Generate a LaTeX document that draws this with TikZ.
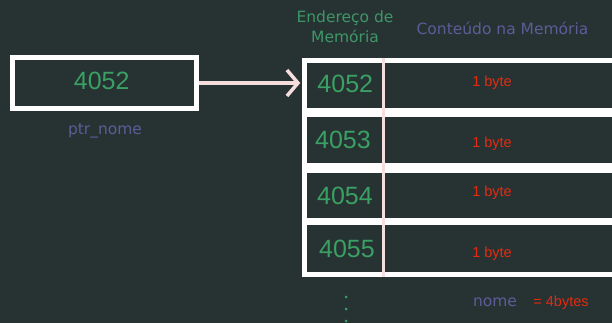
\documentclass[tikz,border=0pt]{standalone}
\usepackage{fontspec}
\setmainfont{DejaVu Sans}
\newfontfamily\digfont{Liberation Sans}
\newfontfamily\arialfont{Liberation Sans}
\usetikzlibrary{arrows.meta}
\definecolor{bg}{RGB}{39,51,51}
\definecolor{memgreen}{RGB}{58,160,100}
\definecolor{hdrgreen}{RGB}{62,150,104}
\definecolor{lilac}{RGB}{92,92,152}
\definecolor{bytered}{RGB}{228,42,16}
\definecolor{pinkline}{RGB}{246,222,222}
\begin{document}
\begin{tikzpicture}[x=1pt,y=-1pt,
  cellbox/.style={draw=white, line width=4.5pt, fill=bg, inner sep=0pt},
  numtext/.style={text=memgreen, font=\digfont\fontsize{25}{25}\selectfont, inner sep=0pt, anchor=base},
  bytetext/.style={text=bytered, font=\arialfont\fontsize{14.5}{15}\selectfont, inner sep=0pt, anchor=base},
  hdrtext/.style={text=hdrgreen, font=\fontsize{15.5}{16}\selectfont, inner sep=0pt, anchor=base},
  lilactext/.style={text=lilac, font=\fontsize{15.5}{16}\selectfont, inner sep=0pt, anchor=base},
  arrowline/.style={draw=pinkline, line width=3.5pt, -{Straight Barb[length=11pt,width=26pt]}},
  divider/.style={draw=pinkline, line width=3pt}]
\useasboundingbox (0,0) rectangle (612,323);
\fill[bg] (0,0) rectangle (612,323);
\clip (0,0) rectangle (612,323);

% pointer box
\node[cellbox, minimum width=184pt, minimum height=51pt] (ptr) at (104.5,83) {};
\node[numtext] (ptrval) at (101.7,90) {4052};
\node[lilactext] (ptrname) at (105,135) {ptr\_nome};

% headers
\node[hdrtext] (h1a) at (345,23) {Endereço de};
\node[hdrtext] (h1b) at (345,43) {Memória};
\node[lilactext] (h2) at (502.5,35) {Conteúdo na Memória};

% memory rows
\node[cellbox, minimum width=355.5pt, minimum height=49.75pt] (r1) at (482.25,85.4) {};
\node[cellbox, minimum width=355.5pt, minimum height=50.75pt] (r2) at (482.25,140.1) {};
\node[cellbox, minimum width=355.5pt, minimum height=49.75pt] (r3) at (482.25,195.4) {};
\node[cellbox, minimum width=355.5pt, minimum height=51.75pt] (r4) at (482.25,248.6) {};

\coordinate (dtop) at (383,58);
\coordinate (dbot) at (383,277);
\draw[divider] (dtop) -- (dbot);

\node[numtext] (a1) at (345.3,93) {4052};
\node[numtext] (a2) at (343,149) {4053};
\node[numtext] (a3) at (345,204) {4054};
\node[numtext] (a4) at (347,257) {4055};

\node[bytetext] (c1) at (492,87) {1 byte};
\node[bytetext] (c2) at (492,148) {1 byte};
\node[bytetext] (c3) at (492,196) {1 byte};
\node[bytetext] (c4) at (492,257) {1 byte};

% arrow
\draw[arrowline, shorten >=2pt] (ptr.east) -- (ptr.east -| r1.west);

% dots
\fill[memgreen] (346,297) circle (1.5pt);
\fill[memgreen] (346,309) circle (1.5pt);
\fill[memgreen] (346,321) circle (1.5pt);

% size label
\node[lilactext] (nm) at (495,306) {nome};
\node[bytetext] (sz) at (561,306) {= 4bytes};
\end{tikzpicture}
\end{document}
